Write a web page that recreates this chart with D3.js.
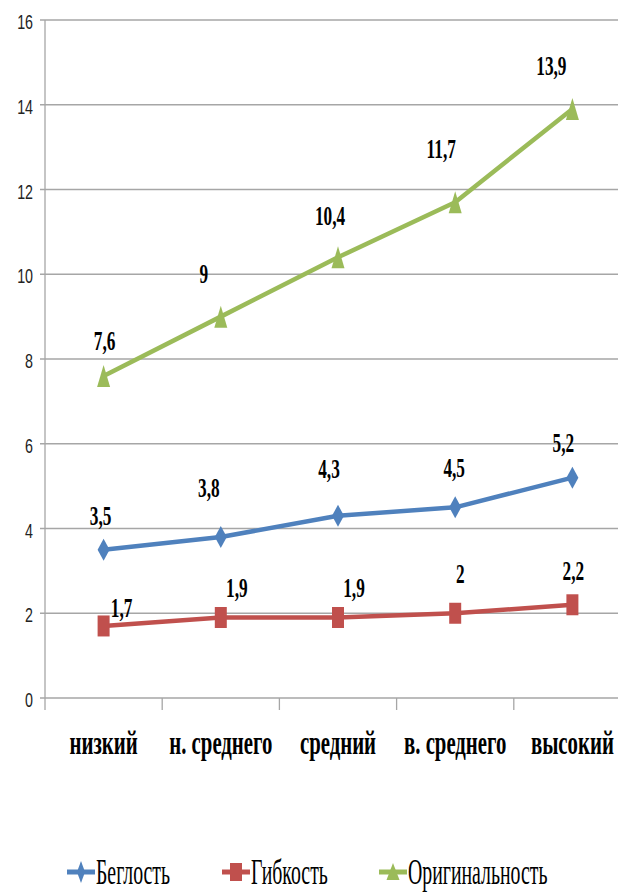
<!DOCTYPE html>
<html><head><meta charset="utf-8">
<script src="https://cdn.jsdelivr.net/npm/d3@7"></script>
<style>html,body{margin:0;padding:0;background:#fff;}svg{display:block;}</style>
</head><body>
<script>
const categories = ["низкий", "н. среднего", "средний", "в. среднего", "высокий"];
const seriesNames = ["Беглость", "Гибкость", "Оригинальность"];
const fluency = [3.5, 3.8, 4.3, 4.5, 5.2];
const flexibility = [1.7, 1.9, 1.9, 2, 2.2];
const originality = [7.6, 9, 10.4, 11.7, 13.9];
const yTicks = [0, 2, 4, 6, 8, 10, 12, 14, 16];

// label nudges (layout only)
const nudgeFluency = [[-3,-25],[-12,-40],[-9,-38],[-1,-30],[-9,-26]];
const nudgeFlex = [[18,-9],[16,-20],[16,-20],[5,-30],[1,-25]];
const nudgeOrig = [[1,-26],[-17,-34],[-8,-32],[-14,-44],[-21,-34]];

const W = 618, H = 893;
const svg = d3.select("body").append("svg").attr("width", W).attr("height", H);

const x = d3.scaleBand().domain(categories).range([45, 631]).padding(0);
const y = d3.scaleLinear().domain([0, 16]).range([698, 20]);
const cx = c => x(c) + x.bandwidth() / 2;

// gridlines
svg.append("g").selectAll("line").data(yTicks).join("line")
  .attr("x1", 40).attr("x2", W).attr("y1", d => y(d)).attr("y2", d => y(d))
  .attr("stroke", "#a6a6a6").attr("stroke-width", 1.3);
// y axis line
svg.append("line").attr("x1", 45).attr("x2", 45).attr("y1", y(16)).attr("y2", y(0) + 12)
  .attr("stroke", "#a6a6a6").attr("stroke-width", 1.3);
// category ticks
svg.append("g").selectAll("line").data(categories.slice(1)).join("line")
  .attr("x1", d => x(d)).attr("x2", d => x(d)).attr("y1", y(0)).attr("y2", y(0) + 12)
  .attr("stroke", "#a6a6a6").attr("stroke-width", 1.3);

// y tick labels
svg.append("g").selectAll("text").data(yTicks).join("text")
  .attr("transform", d => `translate(33,${y(d) + 9}) scale(0.68,1)`)
  .attr("text-anchor", "end")
  .attr("font-family", "Liberation Sans, Arial, sans-serif")
  .attr("font-size", 21).attr("fill", "#222").text(d => d);

// category labels
svg.append("g").selectAll("text").data(categories).join("text")
  .attr("transform", d => `translate(${cx(d)},754) scale(0.63,1)`)
  .attr("text-anchor", "middle")
  .attr("font-family", "Liberation Serif, Times New Roman, serif")
  .attr("font-weight", "bold").attr("font-size", 33).attr("fill", "#000").text(d => d);

const markers = {
  diamond: "M0,-11L6,0L0,11L-6,0Z",
  square: "M-6,-10.5H6V10.5H-6Z",
  triangle: "M0,-11L6.5,11L-6.5,11Z"
};

const series = [
  {name: seriesNames[0], values: fluency, color: "#4F81BD", marker: "diamond", nudge: nudgeFluency},
  {name: seriesNames[1], values: flexibility, color: "#C0504D", marker: "square", nudge: nudgeFlex},
  {name: seriesNames[2], values: originality, color: "#9BBB59", marker: "triangle", nudge: nudgeOrig}
];

const line = d3.line().x((d, i) => cx(categories[i])).y(d => y(d));

series.forEach(s => {
  const g = svg.append("g");
  g.append("path").datum(s.values).attr("d", line)
    .attr("fill", "none").attr("stroke", s.color).attr("stroke-width", 4.5)
    .attr("stroke-linejoin", "round");
  g.selectAll("path.m").data(s.values).join("path").attr("class", "m")
    .attr("d", markers[s.marker])
    .attr("transform", (d, i) => `translate(${cx(categories[i])},${y(d)})`)
    .attr("fill", s.color);
  g.selectAll("text").data(s.values).join("text")
    .attr("transform", (d, i) => `translate(${cx(categories[i]) + s.nudge[i][0]},${y(d) + s.nudge[i][1]}) scale(0.64,1)`)
    .attr("text-anchor", "middle")
    .attr("font-family", "Liberation Serif, Times New Roman, serif")
    .attr("font-weight", "bold").attr("font-size", 27).attr("fill", "#000")
    .text(d => String(d).replace(".", ","));
});

// legend
const legendX = [67, 222, 379];
const legendMarkers = {
  diamond: "M0,-11L4,0L0,11L-4,0Z",
  square: "M-6,-9H6V9H-6Z",
  triangle: "M0,-9L6.5,8L-6.5,8Z"
};
const lg = svg.append("g");
series.forEach((s, i) => {
  const gx = legendX[i];
  lg.append("line").attr("x1", gx).attr("x2", gx + 28).attr("y1", 872).attr("y2", 872)
    .attr("stroke", s.color).attr("stroke-width", 5);
  lg.append("path").attr("d", legendMarkers[s.marker])
    .attr("transform", `translate(${gx + 14},872)`).attr("fill", s.color);
  lg.append("text").attr("transform", `translate(${gx + 29},884) scale(0.55,1)`)
    .attr("font-family", "Liberation Serif, Times New Roman, serif")
    .attr("font-size", 36).attr("fill", "#000").text(s.name);
});
</script>
</body></html>
